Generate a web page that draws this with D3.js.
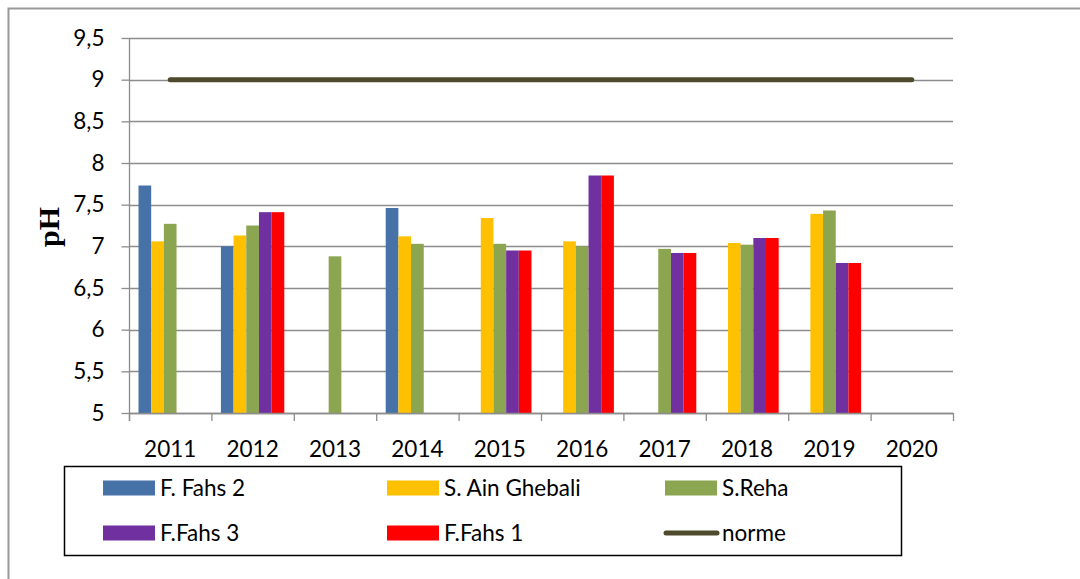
<!DOCTYPE html>
<html>
<head>
<meta charset="utf-8">
<script src="https://cdn.jsdelivr.net/npm/d3@7"></script>
<style>
  html, body { margin: 0; padding: 0; background: #fff; }
  svg { display: block; }
  .lbl { font-family: Lato, "Open Sans", sans-serif; fill: #000; }
  .title { font-family: "Liberation Serif", "Times New Roman", serif; font-weight: bold; fill: #000; }
</style>
</head>
<body>
<svg id="chart" width="1080" height="579"></svg>
<script>
// Annual pH per sampling station (null = no measurement that year)
const years = ["2011", "2012", "2013", "2014", "2015", "2016", "2017", "2018", "2019", "2020"];
const seriesNames = ["F. Fahs 2", "S. Ain Ghebali", "S.Reha", "F.Fahs 3", "F.Fahs 1"];
const seriesColors = ["#4672a8", "#ffc000", "#8ba550", "#7030a0", "#ff0000"];
const fFahs2      = [7.73, 7.00, null, 7.46, null, null, null, null, null, null];
const sAinGhebali = [7.06, 7.13, null, 7.12, 7.34, 7.06, null, 7.04, 7.39, null];
const sReha       = [7.27, 7.25, 6.88, 7.03, 7.03, 7.00, 6.97, 7.02, 7.43, null];
const fFahs3      = [null, 7.41, null, null, 6.95, 7.85, 6.92, 7.10, 6.80, null];
const fFahs1      = [null, 7.41, null, null, 6.95, 7.85, 6.92, 7.10, 6.80, null];
const norme       = [9, 9, 9, 9, 9, 9, 9, 9, 9, 9];
const normeColor = "#4e4a2d";
const yTicks = [5, 5.5, 6, 6.5, 7, 7.5, 8, 8.5, 9, 9.5];

const seriesValues = [fFahs2, sAinGhebali, sReha, fFahs3, fFahs1];

const svg = d3.select("#chart");
const plot = { left: 129, right: 953, top: 38, bottom: 413 };
const fontSize = 22.5;

// outer frame
svg.append("path")
  .attr("d", "M8.5,579V8.5H1080")
  .attr("fill", "none")
  .attr("stroke", "#999")
  .attr("stroke-width", 2);

const x = d3.scaleBand().domain(years).range([plot.left, plot.right]).paddingInner(0).paddingOuter(0);
const x1 = d3.scaleBand().domain(seriesNames).range([0, x.bandwidth()]).paddingInner(0).paddingOuter(0.75);
const y = d3.scaleLinear().domain([5, 9.5]).range([plot.bottom, plot.top]);

const fmt = d3.formatLocale({ decimal: ",", thousands: " ", grouping: [3], currency: ["", ""] }).format("~g");

// horizontal gridlines
svg.append("g").selectAll("line").data(yTicks).join("line")
  .attr("x1", plot.left).attr("x2", plot.right)
  .attr("y1", d => Math.round(y(d)) + 0.5).attr("y2", d => Math.round(y(d)) + 0.5)
  .attr("stroke", "#8c8c8c").attr("stroke-width", 1.3);

// y axis
const yAxis = svg.append("g")
  .attr("transform", `translate(${plot.left + 0.5},0)`)
  .call(d3.axisLeft(y).tickValues(yTicks).tickFormat(fmt).tickSize(8).tickPadding(17));
yAxis.attr("font-family", null).attr("font-size", null);
yAxis.select(".domain").remove();
yAxis.selectAll(".tick line").attr("stroke", "#8c8c8c").attr("stroke-width", 1.3);
yAxis.selectAll(".tick text").attr("class", "lbl").style("font-size", fontSize + "px");
svg.append("line")
  .attr("x1", plot.left + 0.5).attr("x2", plot.left + 0.5)
  .attr("y1", plot.top).attr("y2", plot.bottom + 8)
  .attr("stroke", "#8c8c8c").attr("stroke-width", 1.3);

// x axis: ticks on category boundaries, labels centred
const xAxis = svg.append("g");
xAxis.selectAll("line.tk").data(d3.range(years.length + 1)).join("line")
  .attr("class", "tk")
  .attr("x1", i => plot.left + i * x.step() + 0.5).attr("x2", i => plot.left + i * x.step() + 0.5)
  .attr("y1", plot.bottom).attr("y2", plot.bottom + 8)
  .attr("stroke", "#8c8c8c").attr("stroke-width", 1.3);
xAxis.selectAll("text").data(years).join("text")
  .attr("class", "lbl")
  .attr("x", d => x(d) + x.bandwidth() / 2)
  .attr("y", 457)
  .attr("text-anchor", "middle")
  .style("font-size", fontSize + "px")
  .text(d => d);

// bars
const barData = [];
seriesValues.forEach((vals, si) => {
  vals.forEach((v, yi) => {
    if (v != null) barData.push({ series: seriesNames[si], color: seriesColors[si], year: years[yi], value: v });
  });
});
svg.append("g").selectAll("rect").data(barData).join("rect")
  .attr("x", d => x(d.year) + x1(d.series))
  .attr("width", x1.bandwidth())
  .attr("y", d => y(d.value))
  .attr("height", d => y(5) - y(d.value))
  .attr("fill", d => d.color);

// bottom axis line over bars
svg.append("line")
  .attr("x1", plot.left).attr("x2", plot.right)
  .attr("y1", Math.round(y(5)) + 0.5).attr("y2", Math.round(y(5)) + 0.5)
  .attr("stroke", "#8c8c8c").attr("stroke-width", 1.3);

// norme line
const line = d3.line().x((d, i) => x(years[i]) + x.bandwidth() / 2).y(d => y(d));
svg.append("path")
  .datum(norme)
  .attr("d", line)
  .attr("fill", "none")
  .attr("stroke", normeColor)
  .attr("stroke-width", 5)
  .attr("stroke-linecap", "round");

// y axis title
svg.append("text")
  .attr("class", "title")
  .attr("transform", "translate(59,227) rotate(-90)")
  .attr("text-anchor", "middle")
  .style("font-size", "30px")
  .text("pH");

// legend
const legend = svg.append("g");
legend.append("rect")
  .attr("x", 64.5).attr("y", 466.5).attr("width", 837).attr("height", 89)
  .attr("fill", "#fff").attr("stroke", "#000").attr("stroke-width", 1.5);

const legendItems = seriesNames.map((n, i) => ({ name: n, color: seriesColors[i], type: "bar" }))
  .concat([{ name: "norme", color: normeColor, type: "line" }]);
const colX = [103, 387, 665];
const rowY = [488, 533];
legendItems.forEach((it, i) => {
  const cx = colX[i % 3], cy = rowY[Math.floor(i / 3)];
  if (it.type === "bar") {
    legend.append("rect").attr("x", cx).attr("y", cy - 7.5).attr("width", 52).attr("height", 15).attr("fill", it.color);
  } else {
    legend.append("line").attr("x1", cx + 1).attr("x2", cx + 52).attr("y1", cy).attr("y2", cy)
      .attr("stroke", it.color).attr("stroke-width", 5).attr("stroke-linecap", "round");
  }
  legend.append("text").attr("class", "lbl").attr("x", cx + 57).attr("y", cy + 8)
    .style("font-size", fontSize + "px").text(it.name);
});
</script>
</body>
</html>
